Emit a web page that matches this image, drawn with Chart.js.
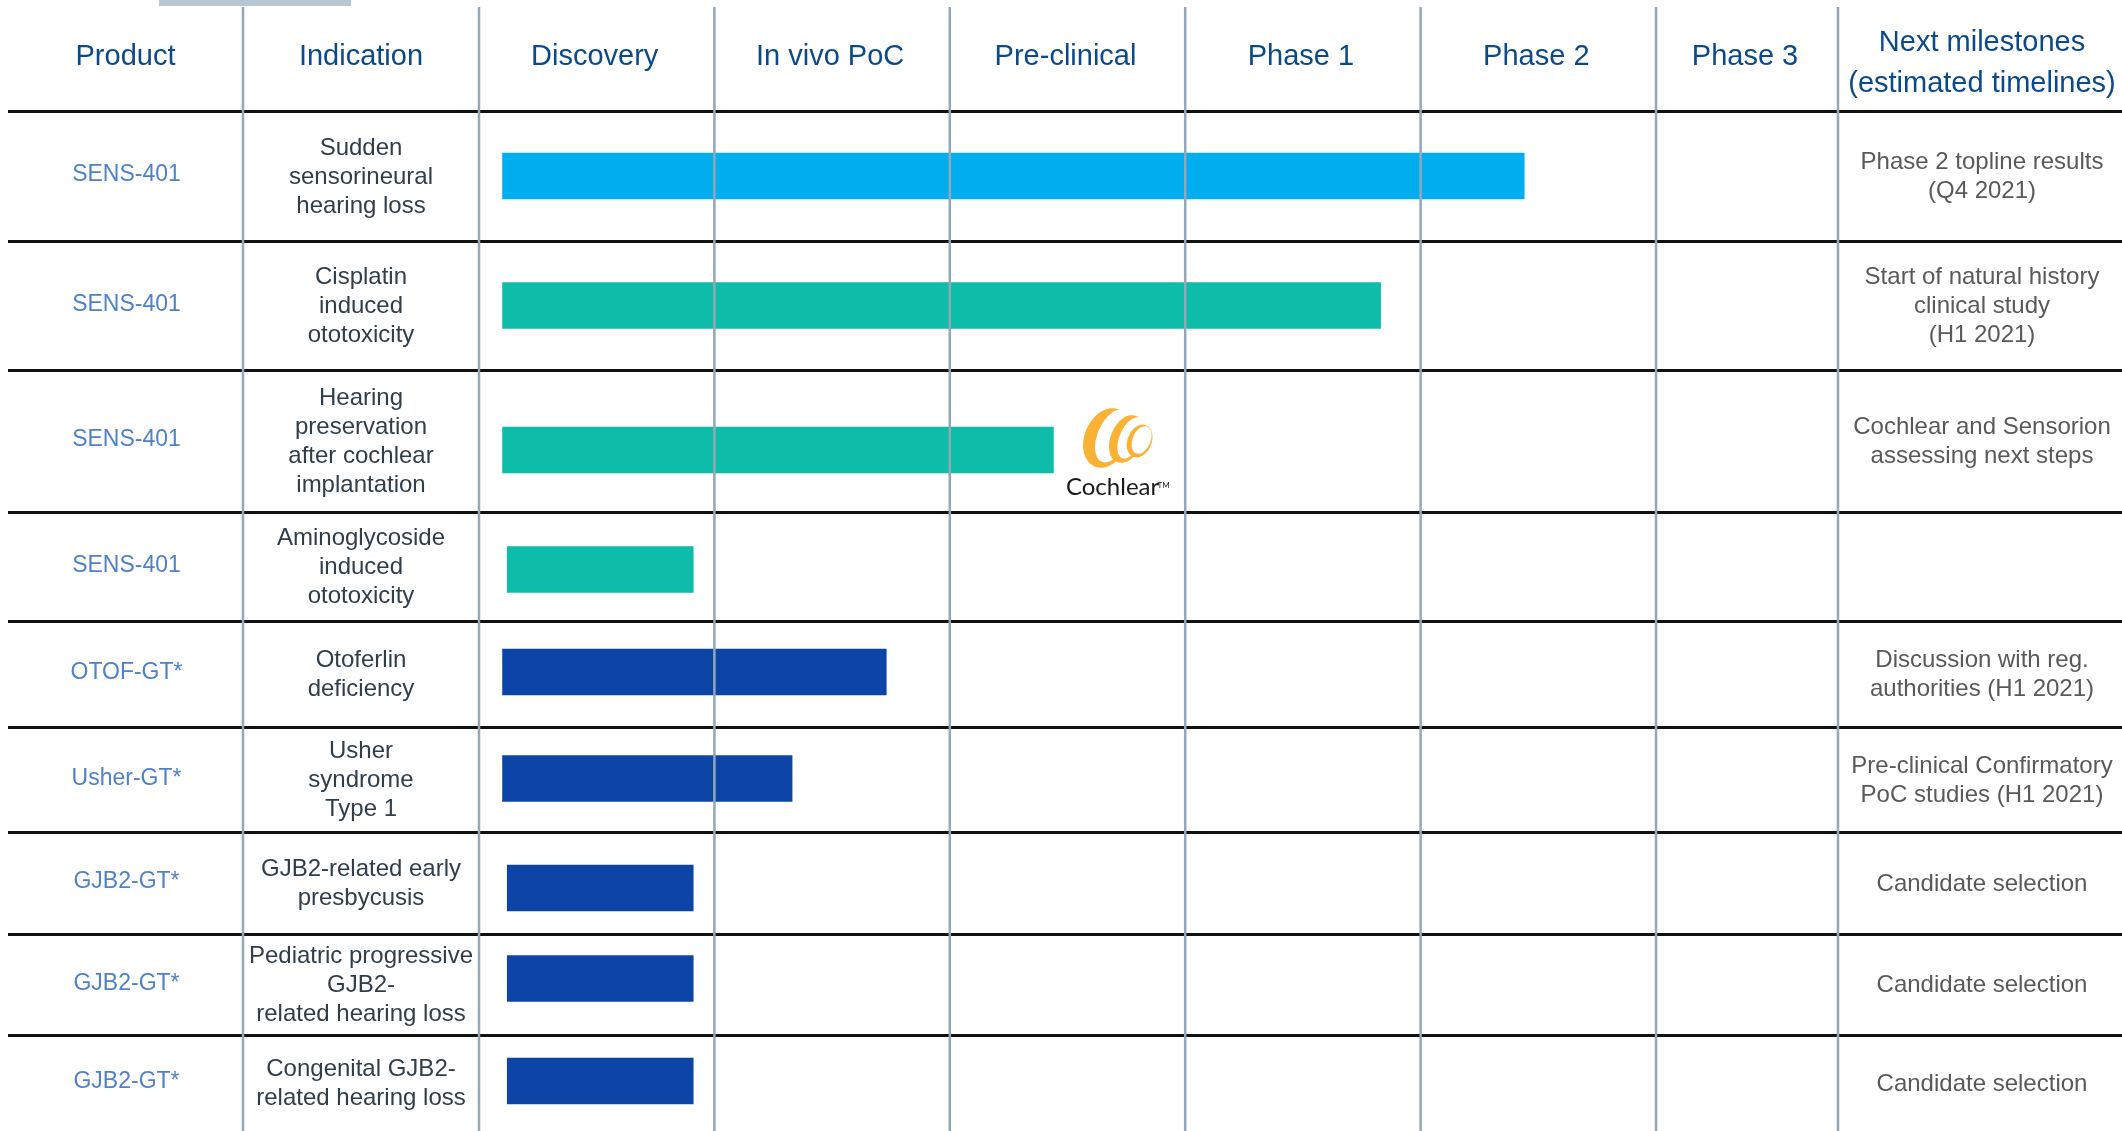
<!DOCTYPE html>
<html>
<head>
<meta charset="utf-8">
<script src="https://cdn.jsdelivr.net/npm/chart.js@4/dist/chart.umd.min.js"></script>
<style>
  html, body { margin: 0; padding: 0; background: #fff; }
  canvas { display: block; }
</style>
</head>
<body>
<canvas id="pipeline" width="2122" height="1131"></canvas>
<script>
// --- data: one entry per pipeline row, top to bottom ---
const stages = ["Discovery", "In vivo PoC", "Pre-clinical", "Phase 1", "Phase 2", "Phase 3"];
const products = ["SENS-401", "SENS-401", "SENS-401", "SENS-401", "OTOF-GT*", "Usher-GT*", "GJB2-GT*", "GJB2-GT*", "GJB2-GT*"];
const indications = [
    ["Sudden", "sensorineural", "hearing loss"],
    ["Cisplatin", "induced", "ototoxicity"],
    ["Hearing", "preservation", "after cochlear", "implantation"],
    ["Aminoglycoside", "induced", "ototoxicity"],
    ["Otoferlin", "deficiency"],
    ["Usher", "syndrome", "Type 1"],
    ["GJB2-related early", "presbycusis"],
    ["Pediatric progressive", "GJB2-", "related hearing loss"],
    ["Congenital GJB2-", "related hearing loss"]
];
// progress in stage units (0 = start of Discovery, 1 = start of In vivo PoC, ...)
const progressStart = [0.10, 0.10, 0.10, 0.12, 0.10, 0.10, 0.12, 0.12, 0.12];
const progressEnd = [4.44, 3.83, 2.44, 0.91, 1.73, 1.33, 0.91, 0.91, 0.91];
const milestones = [
    ["Phase 2 topline results", "(Q4 2021)"],
    ["Start of natural history", "clinical study", "(H1 2021)"],
    ["Cochlear and Sensorion", "assessing next steps"],
    [],
    ["Discussion with reg.", "authorities (H1 2021)"],
    ["Pre-clinical Confirmatory", "PoC studies (H1 2021)"],
    ["Candidate selection"],
    ["Candidate selection"],
    ["Candidate selection"]
];

// --- layout / style ---
const W = 2122, H = 1131;
const headerBottom = 111;
const rowHeights = [130, 129, 142, 109, 106, 105, 102, 101, 96];
const barNudge = [0, 0, 9, 3, -2, -1, 5, -6, -2];   // bars are not exactly centred in their rows
const stageAxisMax = 5.773;          // Phase 3 column is narrower than the others
const productDivider = 243, tableLeft = 8;
const barColors = ["#00aeef", "#0dbca9", "#0dbca9", "#0dbca9", "#0c45a6", "#0c45a6", "#0c45a6", "#0c45a6", "#0c45a6"];
const FONT = "'Liberation Sans', Arial, sans-serif";

const rowEdges = [0];
rowHeights.forEach(function(h) { rowEdges.push(rowEdges[rowEdges.length - 1] + h); });
const rowCenters = rowHeights.map(function(h, i) { return rowEdges[i] + h / 2; });

function textLines(ctx, lines, x, yc, lh) {
    var y0 = yc - (lines.length - 1) * lh / 2;
    lines.forEach(function(t, i) { ctx.fillText(t, x, y0 + i * lh); });
}

function drawLogo(ctx, ax, ay) {
    var orange = "#f9b233";
    var rings = [
        { x: -8, y: -3, rx: 22, ry: 31, ix: -2, iy: -5, irx: 15, iry: 28 },
        { x: 12, y: -2, rx: 16, ry: 25, ix: 16, iy: -3, irx: 11, iry: 22 },
        { x: 25, y: 0, rx: 12, ry: 17, ix: 27, iy: -1, irx: 9, iry: 14.5 }
    ];
    rings.forEach(function(r) {
        ctx.fillStyle = orange;
        ctx.beginPath();
        ctx.ellipse(ax + r.x, ay + r.y, r.rx, r.ry, 0.4, 0, Math.PI * 2);
        ctx.fill();
        ctx.fillStyle = "#fff";
        ctx.beginPath();
        ctx.ellipse(ax + r.ix, ay + r.iy, r.irx, r.iry, 0.4, 0, Math.PI * 2);
        ctx.fill();
    });
    ctx.fillStyle = "#1a1a1a";
    ctx.font = "24px Lato, sans-serif";
    ctx.textAlign = "center";
    ctx.fillText("Cochlear", ax - 2, ay + 46);
    ctx.font = "8px Lato, sans-serif";
    ctx.fillText("TM", ax + 49, ay + 44);
}

const tablePlugin = {
    id: "pipelineTable",
    afterDatasetsDraw: function(chart) {
        var ctx = chart.ctx, xs = chart.scales.x, ys = chart.scales.y;
        ctx.save();
        // top tab
        ctx.fillStyle = "#b7c6d1";
        ctx.fillRect(159, 0, 192, 6);
        // row separators
        ctx.strokeStyle = "#111";
        ctx.lineWidth = 3;
        for (var i = 0; i < rowEdges.length - 1; i++) {
            var y = Math.round(ys.getPixelForValue(rowEdges[i])) + 0.5;
            ctx.beginPath();
            ctx.moveTo(tableLeft, y);
            ctx.lineTo(W, y);
            ctx.stroke();
        }
        // column separators
        var cols = [productDivider];
        for (var s = 0; s < stages.length; s++) cols.push(xs.getPixelForValue(s));
        cols.push(xs.getPixelForValue(stageAxisMax));
        ctx.strokeStyle = "#93a7b8";
        ctx.lineWidth = 2.5;
        cols.forEach(function(x) {
            ctx.beginPath();
            ctx.moveTo(x, 7);
            ctx.lineTo(x, H);
            ctx.stroke();
        });
        ctx.restore();
    },
    afterDraw: function(chart) {
        var ctx = chart.ctx, xs = chart.scales.x, ys = chart.scales.y;
        ctx.save();
        ctx.textBaseline = "middle";
        ctx.textAlign = "center";
        // header
        ctx.fillStyle = "#0b4a8a";
        ctx.font = "29px " + FONT;
        var headY = 57;
        ctx.fillText("Product", (tableLeft + productDivider) / 2, headY);
        ctx.fillText("Indication", (productDivider + xs.getPixelForValue(0)) / 2, headY);
        stages.forEach(function(st, i) {
            var right = Math.min(i + 1, stageAxisMax);
            ctx.fillText(st, (xs.getPixelForValue(i) + xs.getPixelForValue(right)) / 2 - 2, headY);
        });
        var msX = (xs.getPixelForValue(stageAxisMax) + W) / 2;
        textLines(ctx, ["Next milestones", "(estimated timelines)"], msX + 2, 63, 41);

        rowCenters.forEach(function(c, i) {
            var y = ys.getPixelForValue(c);
            ctx.fillStyle = "#4f81c7";
            ctx.font = "23px " + FONT;
            ctx.fillText(products[i], (tableLeft + productDivider) / 2 + 1, y - 1);
            ctx.fillStyle = "#2f3e4a";
            ctx.font = "24px " + FONT;
            textLines(ctx, indications[i], (productDivider + xs.getPixelForValue(0)) / 2, y + 1, 29);
            ctx.fillStyle = "#595959";
            ctx.font = "24px " + FONT;
            textLines(ctx, milestones[i], msX + 2, y + 1, 29);
        });
        // partner logo next to the cochlear implantation bar
        drawLogo(ctx, xs.getPixelForValue(2.7), ys.getPixelForValue(rowCenters[2]));
        ctx.restore();
    }
};

new Chart(document.getElementById("pipeline"), {
    type: "bar",
    data: {
        datasets: [{
            data: rowCenters.map(function(c, i) {
                return { x: [progressStart[i], progressEnd[i]], y: c + barNudge[i] };
            }),
            backgroundColor: barColors,
            borderWidth: 0,
            barThickness: 46
        }]
    },
    options: {
        indexAxis: "y",
        responsive: false,
        devicePixelRatio: 1,
        animation: false,
        layout: { padding: { left: 479, right: W - 1838, top: headerBottom, bottom: 0 } },
        scales: {
            x: { type: "linear", min: 0, max: stageAxisMax, offset: false, display: false },
            y: { type: "linear", min: 0, max: rowEdges[rowEdges.length - 1], reverse: true, offset: false, display: false }
        },
        plugins: { legend: { display: false }, tooltip: { enabled: false } }
    },
    plugins: [tablePlugin]
});
</script>
</body>
</html>
